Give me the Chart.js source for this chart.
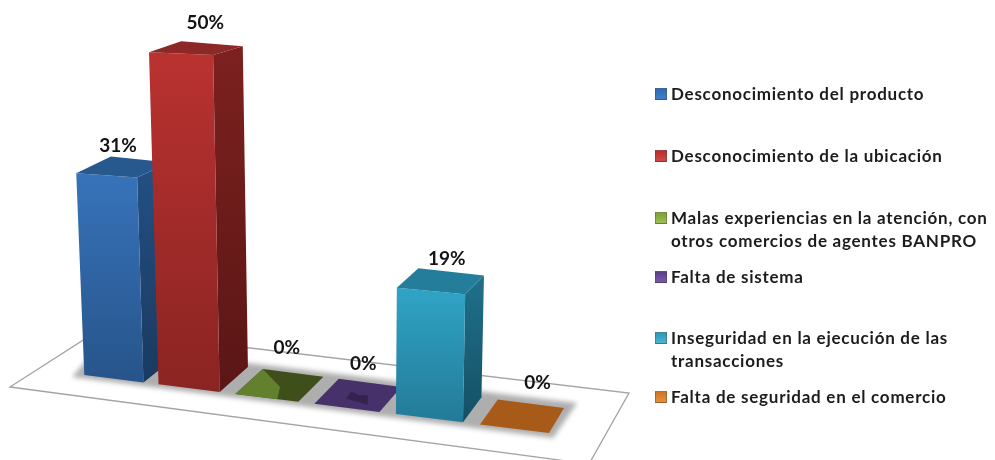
<!DOCTYPE html>
<html lang="es">
<head>
<meta charset="utf-8">
<title>Chart</title>
<script src="https://cdn.jsdelivr.net/npm/chart.js@4/dist/chart.umd.min.js"></script>
<style>
    html, body { margin: 0; padding: 0; background: #fff; }
    #wrap { position: relative; width: 995px; height: 460px; overflow: hidden; }
    canvas { position: absolute; left: 0; top: 0; filter: blur(0.45px); }
    .item { position: absolute; left: 655px; font: bold 17px/23px Lato, sans-serif; color: #1c1c1c; letter-spacing: 0.75px; white-space: nowrap; filter: blur(0.35px); }
    .item i { position: absolute; left: 0; top: 6px; width: 12px; height: 12px; box-sizing: border-box; border: 1px solid rgba(60,60,60,0.35); }
    .item span { display: block; margin-left: 16px; }
</style>
</head>
<body>
<div id="wrap">
    <canvas id="chart" width="995" height="460"></canvas>
    <div id="legend"></div>
</div>
<script>
// Data
const categories = [
    ['Desconocimiento del producto'],
    ['Desconocimiento de la ubicación'],
    ['Malas experiencias en la atención, con', 'otros comercios de agentes BANPRO'],
    ['Falta de sistema'],
    ['Inseguridad en la ejecución de las', 'transacciones'],
    ['Falta de seguridad en el comercio']
];
const percentages = [31, 50, 0, 0, 19, 0];

// Colours per category: front top, front bottom, side top, side bottom, roof
const palette = [
    ['#3773ba', '#27548a', '#235083', '#1a3a60', '#27598f'],
    ['#b93230', '#8a2422', '#7c211f', '#5a1615', '#8c2826'],
    ['#63802e', '#63802e', '#3f4f1b', '#3f4f1b', '#3f4f1b'],
    ['#46316a', '#46316a', '#35234f', '#35234f', '#46316a'],
    ['#30a4c6', '#237a97', '#1f708c', '#155064', '#247d9a'],
    ['#a85a18', '#a85a18', '#a85a18', '#a85a18', '#a85a18']
];
const legendBox = [
    ['#2f6aae', '#3f7fc8'],
    ['#b52f2d', '#cf4a46'],
    ['#7d9f38', '#9dbf52'],
    ['#5b3f8a', '#7a5aa8'],
    ['#2b98b8', '#4cb4d0'],
    ['#cf7425', '#e58f3f']
];
const legendRowY = [93, 155, 217, 276, 337, 396];

// Small hand corrections for the value labels: dx, dy
const labelNudge = [[-11, 3], [3, -6], [1, -4], [-1, 2], [0, -1], [9, 0]];

// Floor decoration
const floorOutline = [[10, 387], [99, 330], [629, 393], [589, 464]];
const floorShadow = [[72, 377], [553, 438], [577, 403], [100, 345]];

// Fixed camera: turns the flat bar geometry from the scales into the tilted 3D view
const originU = 84;
const warp = (u) => u + 0.00023 * (u - originU) * (u - originU);
const project = (u, depth, h) => {
    const fx = warp(u);
    const fy = 375 + 0.125 * (fx - 84);
    const bx = fx + depth * (37 - 0.04 * fx);
    const by = fy + depth * (-25 + 0.042 * h);
    return [bx + h * (bx - 350) * 0.00015, by - h];
};

const poly = (ctx, pts, fill) => {
    ctx.beginPath();
    pts.forEach((p, i) => i ? ctx.lineTo(p[0], p[1]) : ctx.moveTo(p[0], p[1]));
    ctx.closePath();
    if (fill) { ctx.fillStyle = fill; ctx.fill(); }
};

const vGrad = (ctx, y0, y1, c0, c1) => {
    const g = ctx.createLinearGradient(0, y0, 0, y1);
    g.addColorStop(0, c0);
    g.addColorStop(1, c1);
    return g;
};

// Flat markings the zero height bars show on their roof
const padMarks = {
    2: { base: 2, mark: 0, pts: [[0, 0], [0, 1], [0.53, 0.44], [0.67, 0]] },
    3: { base: 0, mark: 2, pts: [[0.37, 0.33], [0.35, 0.6], [0.51, 0.51], [0.63, 0.55], [0.75, 0.21]] }
};

// Bars near the left edge come out slightly shorter in this view
const barHeight = (bar) => {
    const left = warp(bar.x - bar.width / 2);
    return (bar.base - bar.y) * (1 - 0.00026 * Math.max(0, 158 - left));
};

const bars3d = {
    id: 'bars3d',
    beforeDatasetsDraw(chart) {
        const { ctx } = chart;
        ctx.save();
        ctx.strokeStyle = '#a3a3a3';
        ctx.lineWidth = 1.3;
        poly(ctx, floorOutline, '#ffffff');
        ctx.stroke();
        ctx.filter = 'blur(2.5px)';
        poly(ctx, floorShadow, '#aeaeae');
        ctx.restore();
    },
    afterDatasetsDraw(chart) {
        const { ctx } = chart;
        const bars = chart.getDatasetMeta(0).data;
        ctx.save();
        bars.forEach((bar, i) => {
            const l = bar.x - bar.width / 2, r = bar.x + bar.width / 2;
            const h = barHeight(bar);
            const c = palette[i];
            const fl = project(l, 0, 0), fr = project(r, 0, 0), br = project(r, 1, 0);
            const tl = project(l, 0, h), tr = project(r, 0, h * 1.015);
            const bl2 = project(l, 1, h), br2 = project(r, 1, h * 1.008);
            if (h > 0) {
                poly(ctx, [tr, br2, br, fr], vGrad(ctx, br2[1], fr[1], c[2], c[3]));
                poly(ctx, [tl, tr, fr, fl], vGrad(ctx, tl[1], fr[1], c[0], c[1]));
                poly(ctx, [tl, bl2, br2, tr], c[4]);
            } else {
                const mark = padMarks[i];
                poly(ctx, [tl, bl2, br2, tr], mark ? c[mark.base] : c[4]);
                if (mark) {
                    const pts = mark.pts.map(p => project(l + (r - l) * p[0], p[1], 0));
                    poly(ctx, pts, c[mark.mark]);
                }
            }
        });

        // value labels above each bar
        ctx.font = 'bold 19px Lato, sans-serif';
        ctx.fillStyle = '#141414';
        ctx.textAlign = 'center';
        ctx.textBaseline = 'middle';
        bars.forEach((bar, i) => {
            const h = bar.base - bar.y;
            const a = project(bar.x, 0, h), b = project(bar.x, 1, h);
            const lift = percentages[i] === 0 ? 33 : 22;
            const x = (a[0] + b[0]) / 2 + 6 + labelNudge[i][0];
            const y = (a[1] + b[1]) / 2 - lift + labelNudge[i][1];
            ctx.fillText(percentages[i] + '%', x, y);
        });
        ctx.restore();
    }
};

new Chart(document.getElementById('chart').getContext('2d'), {
    type: 'bar',
    data: {
        labels: categories,
        datasets: [{
            data: percentages,
            backgroundColor: 'transparent',
            borderWidth: 0,
            categoryPercentage: 0.8,
            barPercentage: 1
        }]
    },
    options: {
        responsive: false,
        animation: false,
        layout: { padding: { left: 77, right: 480, top: 43, bottom: 85 } },
        scales: {
            x: { display: false },
            y: { display: false, min: 0, max: 50 }
        },
        plugins: { legend: { display: false }, tooltip: { enabled: false } }
    },
    plugins: [bars3d]
});

// Legend
const legend = document.getElementById('legend');
categories.forEach((lines, i) => {
    const item = document.createElement('div');
    item.className = 'item';
    item.style.top = (legendRowY[i] - 11.5) + 'px';
    const box = document.createElement('i');
    box.style.background = `linear-gradient(${legendBox[i][0]}, ${legendBox[i][1]})`;
    item.appendChild(box);
    const text = document.createElement('span');
    text.innerHTML = lines.join('<br>');
    item.appendChild(text);
    legend.appendChild(item);
});
</script>
</body>
</html>
